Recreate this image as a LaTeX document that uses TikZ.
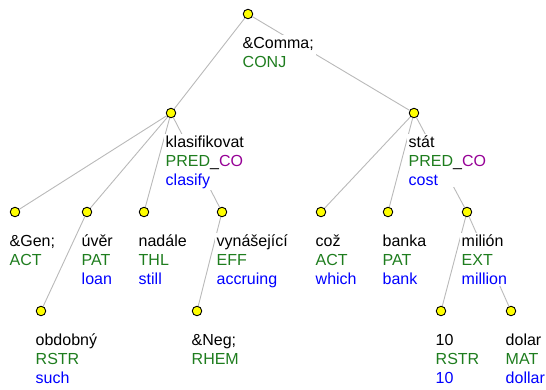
\documentclass[tikz,border=0pt]{standalone}
\usepackage{fontspec}
\setmainfont{Liberation Sans}
\usetikzlibrary{calc,fit}
\definecolor{fgreen}{RGB}{30,125,30}
\definecolor{fblue}{RGB}{0,0,255}
\definecolor{fpurple}{RGB}{150,0,150}
\definecolor{edgegray}{RGB}{185,185,185}
\definecolor{dotyellow}{RGB}{255,255,0}
\pgfdeclarelayer{edges}
\pgfdeclarelayer{boxes}
\pgfsetlayers{edges,boxes,main}
\tikzset{
  dot/.style={circle,draw=black,fill=dotyellow,line width=0.9bp,minimum size=9.5bp,inner sep=0pt},
  txt/.style={inner sep=0pt,anchor=base west,font=\fontsize{16bp}{19bp}\selectfont},
  lbox/.style={fill=white,inner sep=1.5bp},
  edge/.style={draw=edgegray,line width=0.9bp}
}
\newcommand{\lblii}[3]{%
  \node[txt] (#1-a) at ($(#1)+(-5.5,34)$) {#2};
  \node[txt] (#1-b) at ($(#1)+(-5.5,53)$) {#3};
  \begin{pgfonlayer}{boxes}\node[lbox,fit=(#1-a)(#1-b)] (#1-box) {};\end{pgfonlayer}}
\newcommand{\lbliii}[4]{%
  \node[txt] (#1-a) at ($(#1)+(-5.5,34)$) {#2};
  \node[txt] (#1-b) at ($(#1)+(-5.5,53)$) {#3};
  \node[txt] (#1-c) at ($(#1)+(-5.5,72)$) {#4};
  \begin{pgfonlayer}{boxes}\node[lbox,fit=(#1-a)(#1-b)(#1-c)] (#1-box) {};\end{pgfonlayer}}
\newcommand{\fg}[1]{\textcolor{fgreen}{#1}}
\newcommand{\fb}[1]{\textcolor{fblue}{#1}}
\begin{document}
\begin{tikzpicture}[x=1bp,y=-1bp]
\useasboundingbox (0,0) rectangle (546,389);
% dots
\node[dot] (root) at (248,14) {};
\node[dot] (kla) at (171,113) {};
\node[dot] (stat) at (414,113) {};
\node[dot] (gen) at (15,212) {};
\node[dot] (uver) at (87,212) {};
\node[dot] (nad) at (144,212) {};
\node[dot] (vyn) at (222,212) {};
\node[dot] (coz) at (321,212) {};
\node[dot] (banka) at (388,212) {};
\node[dot] (milion) at (467,212) {};
\node[dot] (obd) at (41,311) {};
\node[dot] (neg) at (197,311) {};
\node[dot] (ten) at (441,311) {};
\node[dot] (dolar) at (511,311) {};
% edges
\begin{pgfonlayer}{edges}
\draw[edge] (root) -- (kla);
\draw[edge] (root) -- (stat);
\draw[edge] (kla) -- (gen);
\draw[edge] (kla) -- (uver);
\draw[edge] (kla) -- (nad);
\draw[edge] (kla) -- (vyn);
\draw[edge] (stat) -- (coz);
\draw[edge] (stat) -- (banka);
\draw[edge] (stat) -- (milion);
\draw[edge] (uver) -- (obd);
\draw[edge] (vyn) -- (neg);
\draw[edge] (milion) -- (ten);
\draw[edge] (milion) -- (dolar);
\end{pgfonlayer}
% labels
\lblii{root}{\&Comma;}{\fg{CONJ}}
\lbliii{kla}{klasifikovat}{\fg{PRED}\_\textcolor{fpurple}{CO}}{\fb{clasify}}
\lbliii{stat}{stát}{\fg{PRED}\_\textcolor{fpurple}{CO}}{\fb{cost}}
\lblii{gen}{\&Gen;}{\fg{ACT}}
\lbliii{uver}{úvěr}{\fg{PAT}}{\fb{loan}}
\lbliii{nad}{nadále}{\fg{THL}}{\fb{still}}
\lbliii{vyn}{vynášející}{\fg{EFF}}{\fb{accruing}}
\lbliii{coz}{což}{\fg{ACT}}{\fb{which}}
\lbliii{banka}{banka}{\fg{PAT}}{\fb{bank}}
\lbliii{milion}{milión}{\fg{EXT}}{\fb{million}}
\lbliii{obd}{obdobný}{\fg{RSTR}}{\fb{such}}
\lblii{neg}{\&Neg;}{\fg{RHEM}}
\lbliii{ten}{10}{\fg{RSTR}}{\fb{10}}
\lbliii{dolar}{dolar}{\fg{MAT}}{\fb{dollar}}
\end{tikzpicture}
\end{document}
